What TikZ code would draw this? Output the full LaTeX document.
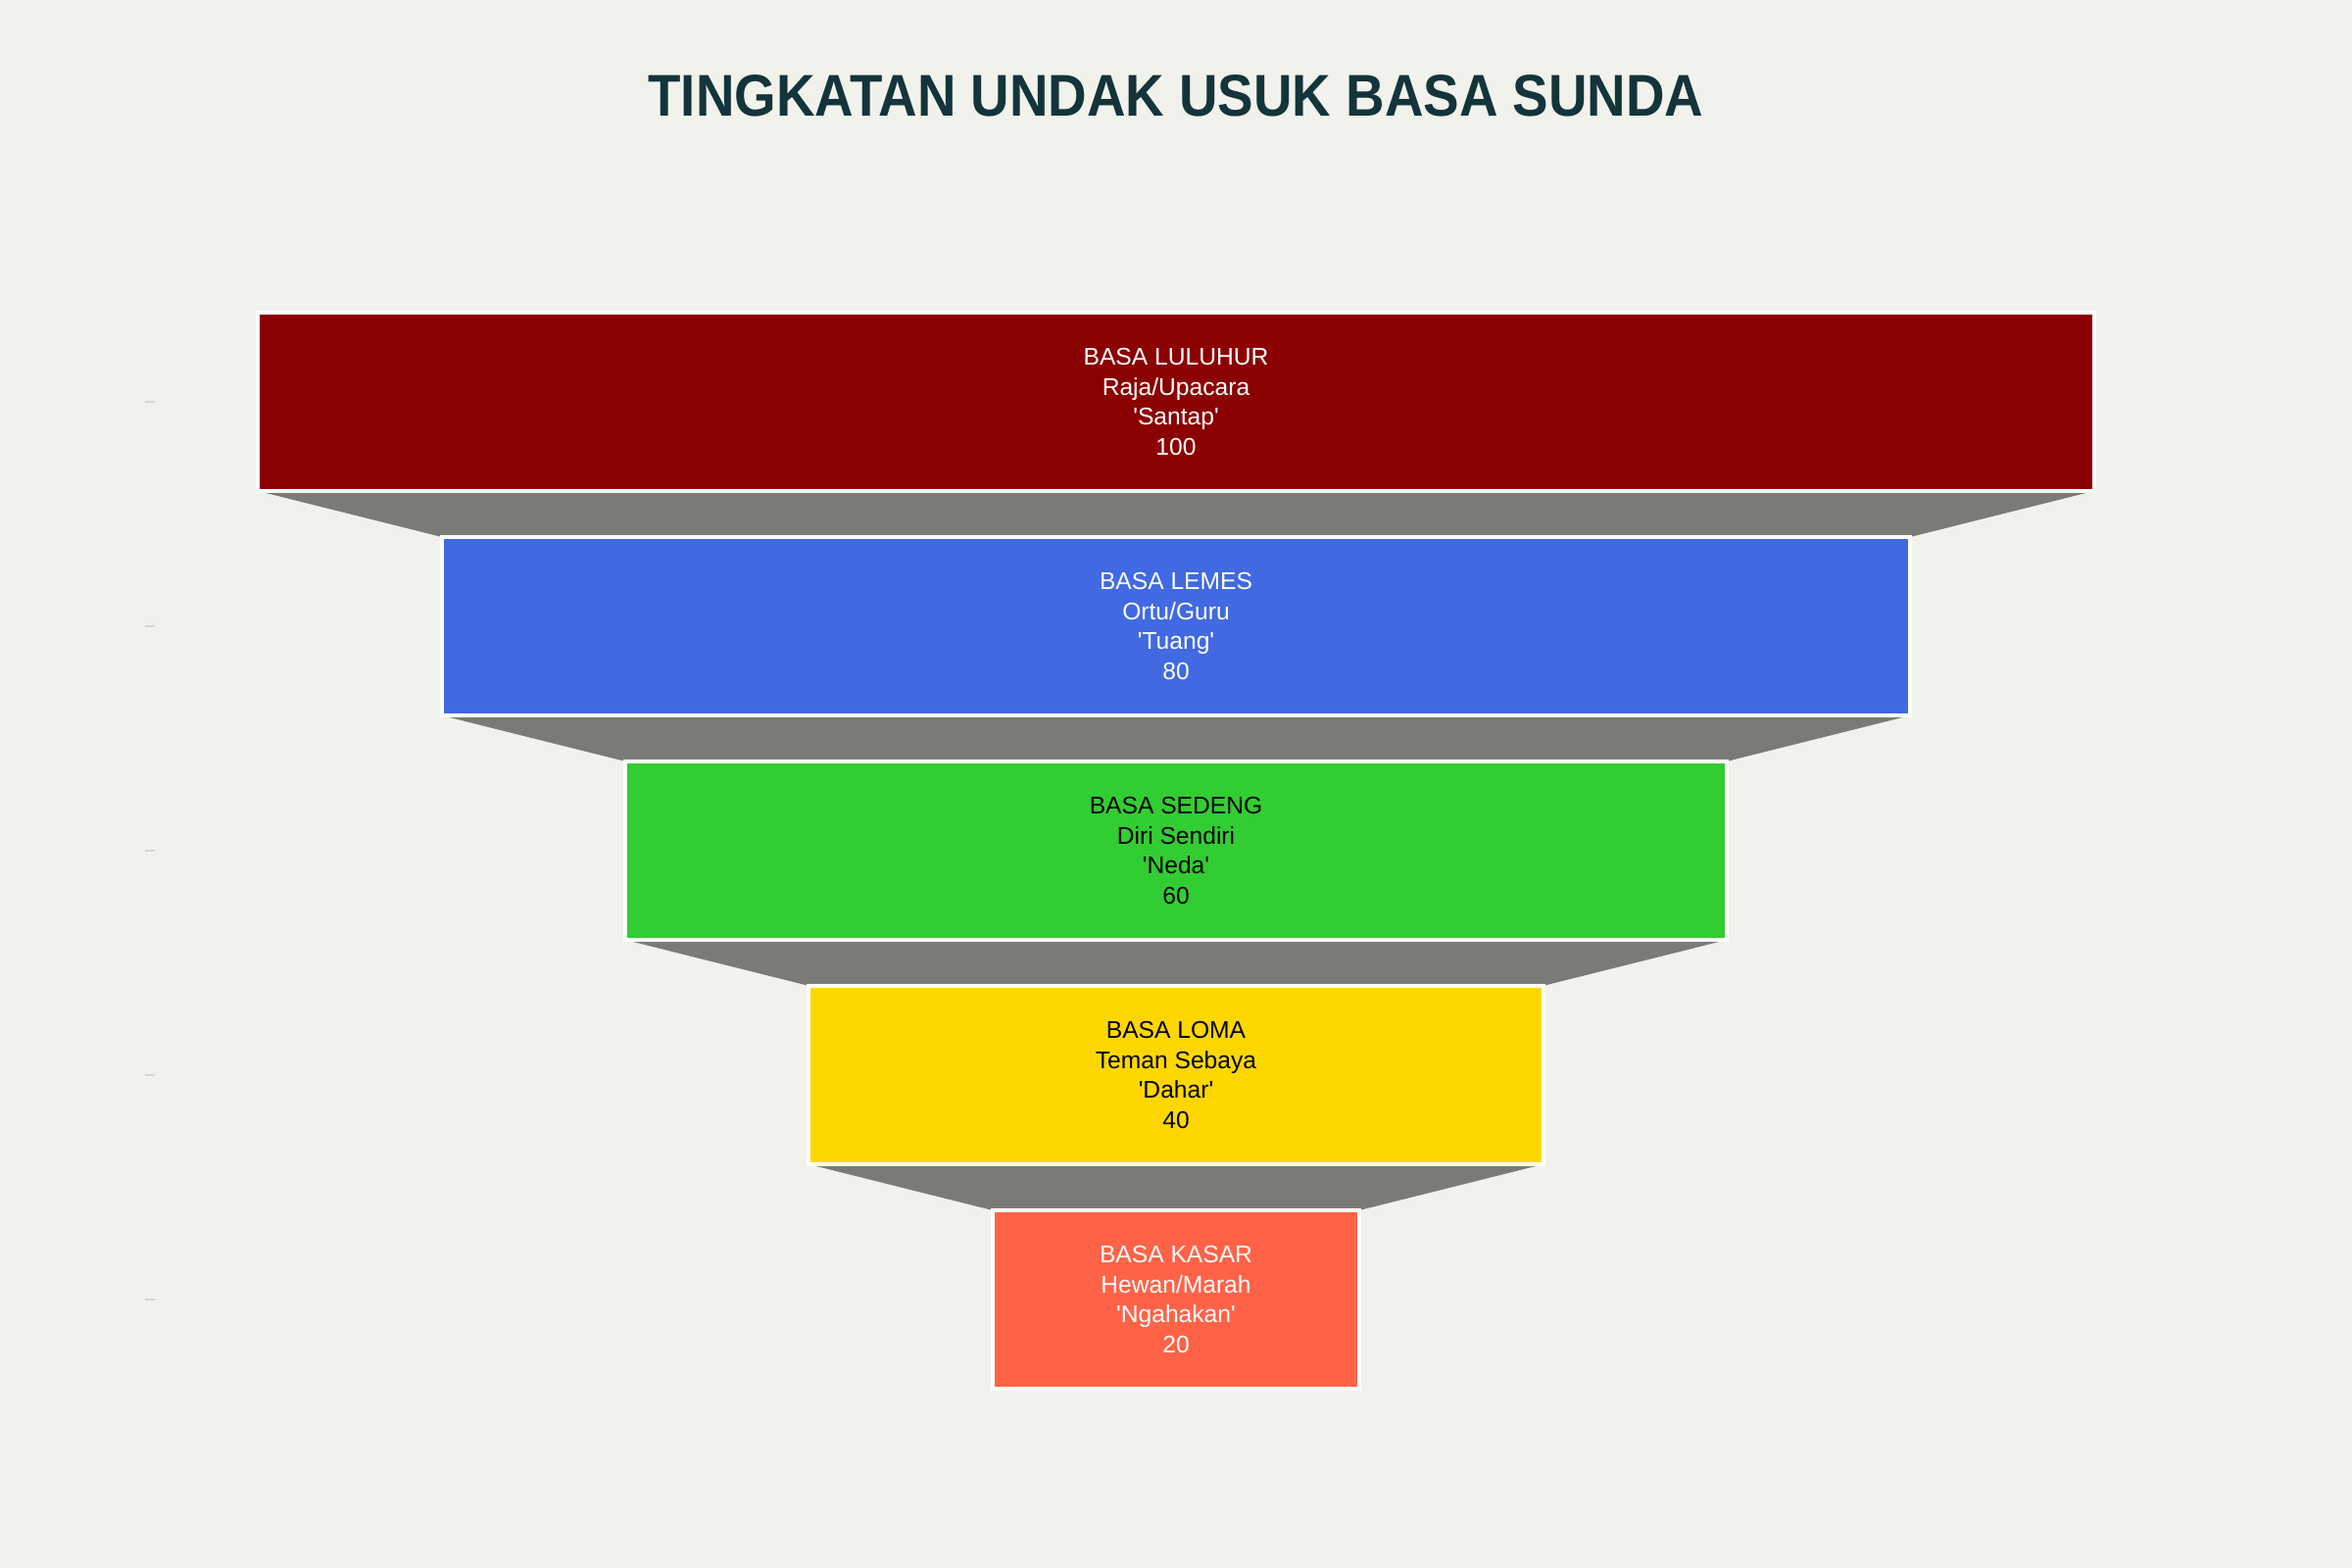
\documentclass[tikz,border=0pt]{standalone}
\usepackage{fontspec}
\usepackage{graphicx}
\setmainfont{Liberation Sans}[Ligatures=TeXOff]
\definecolor{bgc}{HTML}{F2F2EC}
\definecolor{titlec}{HTML}{13343B}
\definecolor{connc}{HTML}{7B7B75}
\definecolor{tickc}{HTML}{D6D6D0}
\definecolor{c1}{HTML}{8B0000}
\definecolor{c2}{HTML}{4169E1}
\definecolor{c3}{HTML}{32CD32}
\definecolor{c4}{HTML}{FFD700}
\definecolor{c5}{HTML}{FF6347}
\tikzset{
  bar/.style={rectangle, draw=white, line width=0.04cm, minimum height=1.82cm, outer sep=0pt, inner sep=0pt,
    align=center, font=\fontsize{7}{8.7}\selectfont},
  conn/.style={fill=connc},
  tickmark/.style={draw=tickc, line width=0.02cm},
}
\begin{document}
\begin{tikzpicture}[x=0.01cm,y=-0.01cm]
\fill[bgc] (0,0) rectangle (2400,1600);
\useasboundingbox (0,0) rectangle (2400,1600);
\node[anchor=base, text=titlec, font=\fontsize{17.1}{20}\selectfont\bfseries] (title) at (1200,119) {\scalebox{0.91}[1]{TINGKATAN UNDAK USUK BASA SUNDA}};
% bar positions (named coordinates)
\coordinate (p1) at (1200,410);
\coordinate (p2) at (1200,639);
\coordinate (p3) at (1200,868);
\coordinate (p4) at (1200,1097);
\coordinate (p5) at (1200,1326);
% invisible frames for connector anchors
\path
 node[bar, draw=none, minimum width=18.72cm] (b1) at (p1) {}
 node[bar, draw=none, minimum width=14.976cm] (b2) at (p2) {}
 node[bar, draw=none, minimum width=11.232cm] (b3) at (p3) {}
 node[bar, draw=none, minimum width=7.488cm] (b4) at (p4) {}
 node[bar, draw=none, minimum width=3.744cm] (b5) at (p5) {};
% connectors
\foreach \a/\b in {b1/b2,b2/b3,b3/b4,b4/b5}{
  \fill[conn] (\a.south west) -- (\a.south east) -- (\b.north east) -- (\b.north west) -- cycle;
}
% bars
\path
 node[bar, fill=c1, text=white, minimum width=18.72cm] (L1) at (b1) {BASA LULUHUR\\Raja/Upacara\\'Santap'\\100}
 node[bar, fill=c2, text=white, minimum width=14.976cm] (L2) at (b2) {BASA LEMES\\Ortu/Guru\\'Tuang'\\80}
 node[bar, fill=c3, text=black, minimum width=11.232cm] (L3) at (b3) {BASA SEDENG\\Diri Sendiri\\'Neda'\\60}
 node[bar, fill=c4, text=black, minimum width=7.488cm] (L4) at (b4) {BASA LOMA\\Teman Sebaya\\'Dahar'\\40}
 node[bar, fill=c5, text=white, minimum width=3.744cm] (L5) at (b5) {BASA KASAR\\Hewan/Marah\\'Ngahakan'\\20};
% ticks
\foreach \y in {410,639,868,1097,1326}{
  \draw[tickmark] (148,\y) -- (158,\y);
}
\end{tikzpicture}
\end{document}
